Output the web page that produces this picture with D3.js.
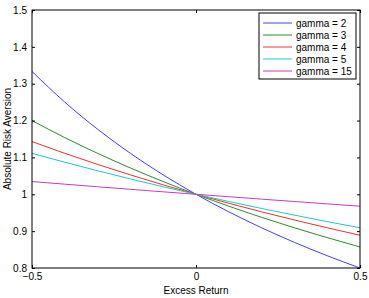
<!DOCTYPE html>
<html>
<head>
<meta charset="utf-8">
<script src="https://cdn.jsdelivr.net/npm/d3@7"></script>
<style>
  body { margin: 0; background: #fff; }
  text { font-family: "Liberation Sans", Arial, sans-serif; }
</style>
</head>
<body>
<svg id="chart"></svg>
<script>
// x values (excess return) and absolute risk aversion per gamma
const excessReturn = [-0.5, -0.4, -0.3, -0.2, -0.1, 0, 0.1, 0.2, 0.3, 0.4, 0.5];
const gamma2  = [1.3333, 1.25, 1.1765, 1.1111, 1.0526, 1, 0.9524, 0.9091, 0.8696, 0.8333, 0.8];
const gamma3  = [1.2, 1.1538, 1.1111, 1.0714, 1.0345, 1, 0.9677, 0.9375, 0.9091, 0.8824, 0.8571];
const gamma4  = [1.1429, 1.1111, 1.0811, 1.0526, 1.0256, 1, 0.9756, 0.9524, 0.9302, 0.9091, 0.8889];
const gamma5  = [1.1111, 1.087, 1.0638, 1.0417, 1.0204, 1, 0.9804, 0.9615, 0.9434, 0.9259, 0.9091];
const gamma15 = [1.0345, 1.0274, 1.0204, 1.0135, 1.0067, 1, 0.9934, 0.9868, 0.9804, 0.974, 0.9677];
const seriesNames = ["gamma = 2", "gamma = 3", "gamma = 4", "gamma = 5", "gamma = 15"];
const seriesColors = ["#4040ff", "#2e8b2e", "#f03030", "#20c8c8", "#c040c0"];
const xTicks = [-0.5, 0, 0.5];
const yTicks = [0.8, 0.9, 1, 1.1, 1.2, 1.3, 1.4, 1.5];

const width = 369, height = 298;
const margin = { top: 10, right: 9, bottom: 30, left: 32 };
const series = [gamma2, gamma3, gamma4, gamma5, gamma15];

const svg = d3.select("#chart").attr("width", width).attr("height", height);

const x = d3.scaleLinear().domain([-0.5, 0.5]).range([margin.left, width - margin.right]);
const y = d3.scaleLinear().domain([0.8, 1.5]).range([height - margin.bottom, margin.top]);

// curves
const line = d3.line()
    .x((d, i) => x(excessReturn[i]))
    .y(d => y(d))
    .curve(d3.curveMonotoneX);

svg.append("g").selectAll("path")
    .data(series)
    .enter().append("path")
    .attr("d", line)
    .attr("fill", "none")
    .attr("stroke", (d, i) => seriesColors[i])
    .attr("stroke-width", 1);

// axes, MATLAB style: ticks inward, box on
const tl = 3;
const axisStyle = g => {
    g.select(".domain").remove();
    g.selectAll("line").attr("stroke", "#000");
    g.selectAll("text").attr("font-size", 10).attr("fill", "#000");
};

svg.append("g")
    .attr("transform", `translate(0,${y.range()[0]})`)
    .call(d3.axisBottom(x).tickValues(xTicks).tickFormat(d => d === 0 ? "0" : d3.format(".1f")(d).replace("-", "\u2212")).tickSizeInner(-tl).tickPadding(5))
    .call(axisStyle);
svg.append("g")
    .attr("transform", `translate(0,${y.range()[1]})`)
    .call(d3.axisTop(x).tickValues(xTicks).tickFormat("").tickSizeInner(-tl))
    .call(axisStyle);
svg.append("g")
    .attr("transform", `translate(${x.range()[0]},0)`)
    .call(d3.axisLeft(y).tickValues(yTicks).tickFormat(d => d === 1 ? "1" : d3.format(".1f")(d)).tickSizeInner(-tl).tickPadding(5))
    .call(axisStyle);
svg.append("g")
    .attr("transform", `translate(${x.range()[1]},0)`)
    .call(d3.axisRight(y).tickValues(yTicks).tickFormat("").tickSizeInner(-tl))
    .call(axisStyle);

svg.append("rect")
    .attr("x", x.range()[0]).attr("y", y.range()[1])
    .attr("width", x.range()[1] - x.range()[0])
    .attr("height", y.range()[0] - y.range()[1])
    .attr("fill", "none").attr("stroke", "#000").attr("stroke-width", 1);

// axis titles
svg.append("text")
    .attr("x", (x.range()[0] + x.range()[1]) / 2).attr("y", 294)
    .attr("text-anchor", "middle").attr("font-size", 10)
    .text("Excess Return");
svg.append("text")
    .attr("transform", `translate(11,${(y.range()[0] + y.range()[1]) / 2}) rotate(-90)`)
    .attr("text-anchor", "middle").attr("font-size", 10)
    .text("Absolute Risk Aversion");

// legend
const legend = svg.append("g").attr("transform", "translate(259,13)");
legend.append("rect")
    .attr("width", 97).attr("height", 66)
    .attr("fill", "#fff").attr("stroke", "#000").attr("stroke-width", 1);
const rows = legend.selectAll("g.row")
    .data(seriesNames)
    .enter().append("g").attr("class", "row")
    .attr("transform", (d, i) => `translate(0,${10 + i * 12})`);
rows.append("line")
    .attr("x1", 4).attr("x2", 33)
    .attr("stroke", (d, i) => seriesColors[i]);
rows.append("text")
    .attr("x", 37).attr("dy", "0.35em").attr("font-size", 10)
    .text(d => d);
</script>
</body>
</html>
